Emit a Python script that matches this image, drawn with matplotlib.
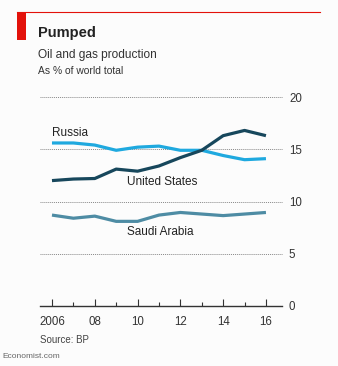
import matplotlib
matplotlib.use("Agg")
import matplotlib.pyplot as plt

plt.rcParams['font.family'] = ['Liberation Sans', 'DejaVu Sans']

years = [2006, 2007, 2008, 2009, 2010, 2011, 2012, 2013, 2014, 2015, 2016]
united_states = [12.0, 12.15, 12.2, 13.1, 12.9, 13.4, 14.2, 14.9, 16.3, 16.8, 16.3]
russia = [15.6, 15.6, 15.4, 14.9, 15.2, 15.3, 14.9, 14.9, 14.4, 14.0, 14.1]
saudi_arabia = [8.7, 8.4, 8.6, 8.1, 8.1, 8.7, 8.95, 8.8, 8.65, 8.8, 8.95]
xtick_years = [2006, 2008, 2010, 2012, 2014, 2016]
xtick_labels = ['2006', '08', '10', '12', '14', '16']
yticks = [0, 5, 10, 15, 20]

W, H = 338, 366
fig = plt.figure(figsize=(W / 100, H / 100), dpi=100)
fig.patch.set_facecolor('#fcfcfc')

def px(x, y):
    return x / W, 1 - y / H

# header: red rule and block
fig.add_artist(plt.Line2D([17 / W, 320 / W], [1 - 12 / H, 1 - 12 / H], color='#e3120b', lw=0.8))
fig.add_artist(plt.Rectangle(px(17, 40), 9 / W, 28 / H, color='#e3120b', lw=0))
fig.text(*px(38, 33), 'Pumped', fontsize=10.5, fontweight='bold', va='center', color='#222222')
fig.text(*px(38, 55), 'Oil and gas production', fontsize=8.6, va='center', color='#333333')
fig.text(*px(38, 71), 'As % of world total', fontsize=7.4, va='center', color='#333333')

ax = fig.add_axes([40 / W, 1 - 306 / H, 242 / W, 209 / H])
ax.set_facecolor('none')
ax.set_xlim(2005.44, 2016.75)
ax.set_ylim(0, 20)

for y in yticks[1:]:
    ax.axhline(y, color='#888888', lw=0.7, ls=(0, (1, 1)), zorder=1, clip_on=False)
ax.axhline(0, color='#333333', lw=1.0, zorder=3, clip_on=False)

ax.plot(years, saudi_arabia, color='#4e8ca4', lw=2.3, zorder=4, solid_capstyle='butt')
ax.plot(years, russia, color='#1fa9df', lw=2.3, zorder=4, solid_capstyle='butt')
ax.plot(years, united_states, color='#17475c', lw=2.3, zorder=5, solid_capstyle='butt')

ax.text(2006, 16.55, 'Russia', fontsize=8.5, color='#222222', va='center', ha='left')
ax.text(2011.14, 11.87, 'United States', fontsize=8.5, color='#222222', va='center', ha='center')
ax.text(2011.05, 7.05, 'Saudi Arabia', fontsize=8.5, color='#222222', va='center', ha='center')

for s in ax.spines.values():
    s.set_visible(False)
ax.set_xticks(years, minor=True)
ax.set_xticks(xtick_years)
ax.set_xticklabels(xtick_labels, fontsize=8.3, color='#333333')
ax.tick_params(axis='x', which='both', direction='in', length=5, width=0.8, color='#333333', pad=7)
ax.tick_params(axis='x', which='minor', length=3)
ax.yaxis.tick_right()
ax.set_yticks(yticks)
ax.set_yticklabels([str(v) for v in yticks], fontsize=8.3, color='#333333')
ax.tick_params(axis='y', length=0, pad=5)

fig.text(*px(40, 340), 'Source: BP', fontsize=7, va='center', color='#444444')
fig.text(*px(2, 356), 'Economist.com', fontsize=6, va='center', color='#666666')

fig.savefig('out.png', dpi=100, facecolor=fig.get_facecolor())
